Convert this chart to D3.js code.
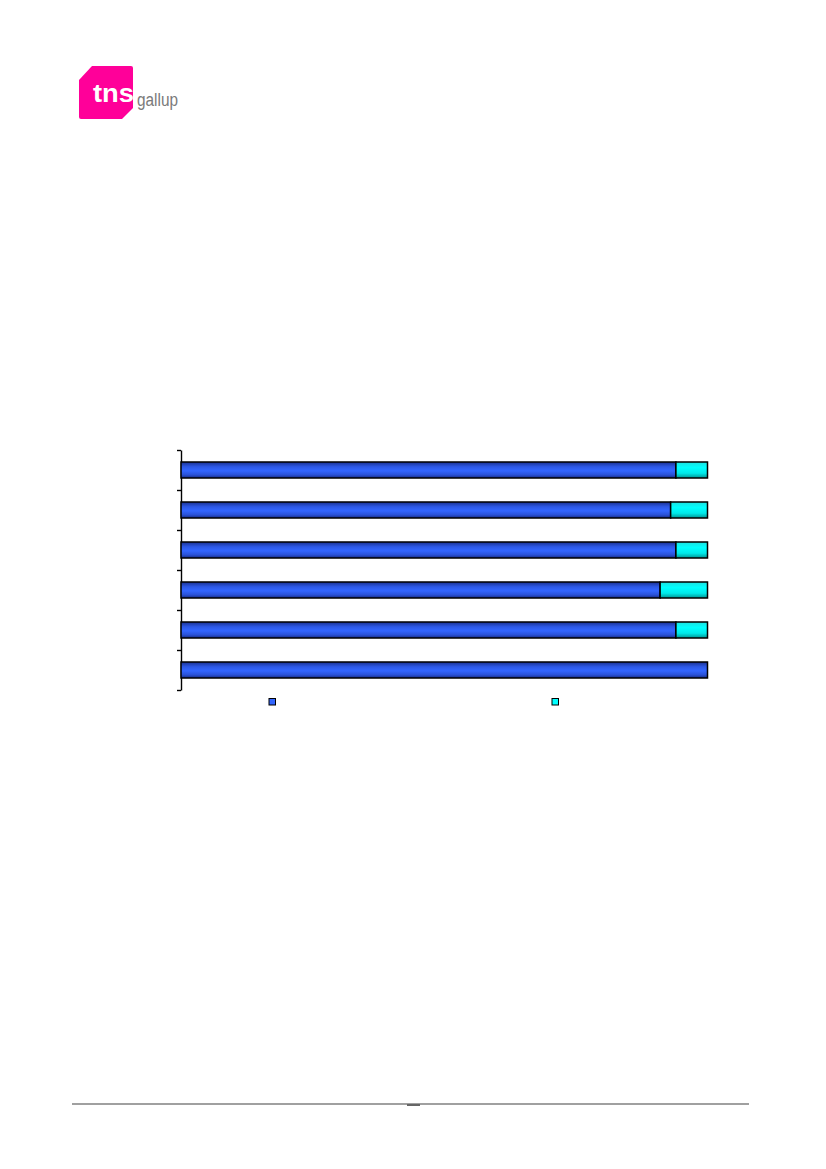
<!DOCTYPE html>
<html>
<head>
<meta charset="utf-8">
<script src="https://cdn.jsdelivr.net/npm/d3@7"></script>
<style>
  html, body { margin: 0; padding: 0; background: #fff; }
  svg { display: block; }
</style>
</head>
<body>
<svg id="page" width="826" height="1169"></svg>
<script>
// ---- data ----
const categories = ["c1", "c2", "c3", "c4", "c5", "c6"];
const seriesNames = ["s1", "s2"];
const seriesA = [94, 93, 94, 91, 94, 100];
const seriesB = [6, 7, 6, 9, 6, 0];
const xDomain = [0, 100];

const svg = d3.select("#page");

// ---- gradients ----
const defs = svg.append("defs");
const gBlue = defs.append("linearGradient").attr("id", "gBlue").attr("x1", 0).attr("y1", 0).attr("x2", 0).attr("y2", 1);
[[0, "#1a3190"], [0.3, "#2d58e6"], [0.55, "#3366ff"], [0.8, "#2a52d8"], [1, "#172c85"]]
  .forEach(([o, c]) => gBlue.append("stop").attr("offset", o).attr("stop-color", c));
const gCyan = defs.append("linearGradient").attr("id", "gCyan").attr("x1", 0).attr("y1", 0).attr("x2", 0).attr("y2", 1);
[[0, "#1ee0e0"], [0.35, "#00ffff"], [0.7, "#00eaea"], [1, "#009494"]]
  .forEach(([o, c]) => gCyan.append("stop").attr("offset", o).attr("stop-color", c));

// ---- logo ----
const logo = svg.append("g");
logo.append("path")
  .attr("d", "M92,66 L131,66 Q133,66 133,68 L133,108 L122,119 L81,119 Q79,119 79,117 L79,80 Z")
  .attr("fill", "#ff0099");
logo.append("text")
  .attr("x", 93).attr("y", 102)
  .attr("font-family", "Arial, 'Liberation Sans', sans-serif")
  .attr("font-weight", "bold").attr("font-size", 25)
  .attr("textLength", 41).attr("lengthAdjust", "spacingAndGlyphs")
  .attr("fill", "#ffffff").text("tns");
logo.append("text")
  .attr("x", 137).attr("y", 106)
  .attr("font-family", "'Liberation Sans Narrow', 'Arial Narrow', Arial, sans-serif")
  .attr("font-size", 18)
  .attr("textLength", 41).attr("lengthAdjust", "spacingAndGlyphs")
  .attr("fill", "#7a7a7a").text("gallup");

// ---- chart ----
const x = d3.scaleLinear().domain(xDomain).range([181, 707.5]);
const y = d3.scaleBand().domain(categories).range([450, 690]).paddingInner(0.6).paddingOuter(0.3);
const yTicks = d3.scaleLinear().domain([0, categories.length]).range([450, 690]);

const axis = svg.append("g")
  .attr("transform", "translate(181,0)")
  .call(d3.axisLeft(yTicks).tickValues(d3.range(categories.length + 1)).tickSize(4).tickSizeOuter(0).tickFormat(""));
axis.selectAll("path, line").attr("stroke", "#000").attr("stroke-width", 1.4);

const rows = categories.map((c, i) => ({ c, a: seriesA[i], b: seriesB[i] }));
const bars = svg.append("g");
bars.selectAll("rect.a").data(rows).join("rect")
  .attr("class", "a")
  .attr("x", x(0)).attr("y", d => y(d.c))
  .attr("width", d => x(d.a) - x(0)).attr("height", y.bandwidth())
  .attr("fill", "url(#gBlue)").attr("stroke", "#000").attr("stroke-width", 1.5);
bars.selectAll("rect.b").data(rows.filter(d => d.b > 0)).join("rect")
  .attr("class", "b")
  .attr("x", d => x(d.a)).attr("y", d => y(d.c))
  .attr("width", d => x(d.a + d.b) - x(d.a)).attr("height", y.bandwidth())
  .attr("fill", "url(#gCyan)").attr("stroke", "#000").attr("stroke-width", 1.5);

// ---- legend ----
const legendX = [269, 552];
const legend = svg.append("g");
legend.selectAll("rect").data(seriesNames).join("rect")
  .attr("x", (d, i) => legendX[i]).attr("y", 698.5)
  .attr("width", 6.5).attr("height", 6.5)
  .attr("fill", (d, i) => i === 0 ? "#3366ff" : "#00ffff")
  .attr("stroke", "#000").attr("stroke-width", 1);

// ---- footer rule ----
svg.append("rect").attr("x", 72).attr("y", 1103).attr("width", 677).attr("height", 2).attr("fill", "#a0a0a0");
svg.append("rect").attr("x", 407).attr("y", 1104).attr("width", 13).attr("height", 2).attr("fill", "#666666");
</script>
</body>
</html>
